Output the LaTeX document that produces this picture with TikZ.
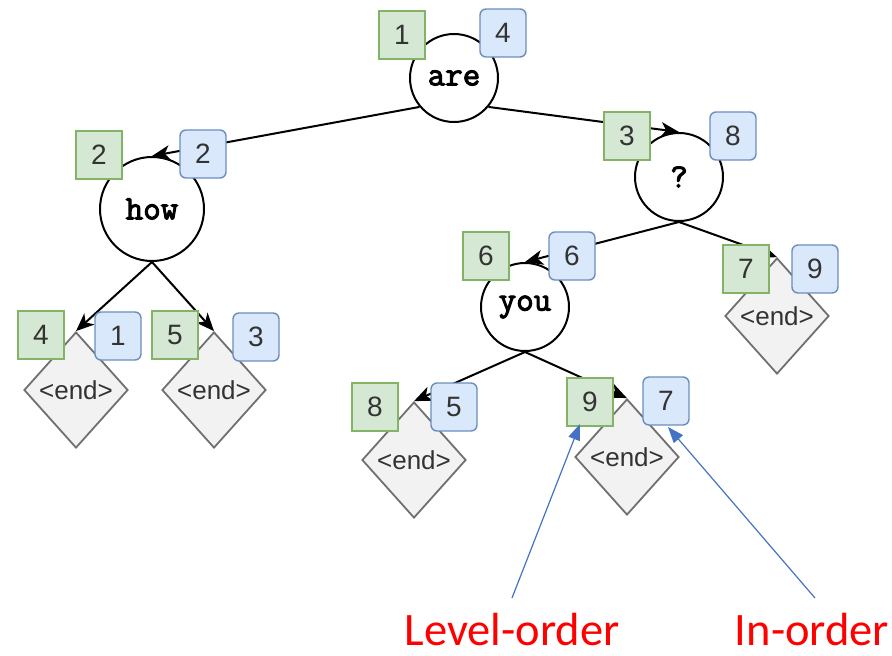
\documentclass[tikz,border=0pt]{standalone}
\usepackage{fontspec}
\setmainfont{Liberation Sans}
\newfontfamily\labelfont{Carlito}
\newfontfamily\codefont{Latin Modern Mono}[FakeBold=3]
\usetikzlibrary{shapes.geometric,arrows.meta}

\definecolor{lvlfill}{HTML}{D5E8D4}
\definecolor{lvldraw}{HTML}{82B366}
\definecolor{inofill}{HTML}{DAE8FC}
\definecolor{inodraw}{HTML}{6C8EBF}
\definecolor{endfill}{HTML}{F2F2F2}
\definecolor{enddraw}{HTML}{707070}
\definecolor{numtext}{HTML}{333333}
\definecolor{pointer}{HTML}{4472C4}

\tikzset{
  word/.style={circle, draw=black, line width=2pt, fill=white,
    minimum size=#1, inner sep=0pt,
    font=\codefont\fontsize{34}{34}\selectfont},
  endbox/.style={diamond, draw=enddraw, line width=1.8pt, fill=endfill,
    minimum width=104pt, minimum height=116pt, inner sep=0pt,
    text=numtext, font=\fontsize{26}{26}\selectfont},
  lvlbox/.style={rectangle, draw=lvldraw, line width=1.4pt, fill=lvlfill,
    minimum width=46pt, minimum height=48pt, inner sep=0pt,
    text=numtext, font=\fontsize{28}{28}\selectfont},
  inobox/.style={rectangle, rounded corners=6pt, draw=inodraw, line width=1.4pt,
    fill=inofill, minimum width=46pt, minimum height=48pt, inner sep=0pt,
    text=numtext, font=\fontsize{28}{28}\selectfont},
  edge/.style={line width=2pt, draw=black,
    -{Stealth[length=18pt,width=15pt,inset=5pt]}},
  pointer/.style={line width=1.2pt, draw=pointer,
    -{Triangle[length=16pt,width=12pt]}},
  caption/.style={text=red, font=\labelfont\fontsize{46.5}{46.5}\selectfont,
    inner sep=0pt}
}

\begin{document}
\begin{tikzpicture}[x=1pt,y=-1pt]
\useasboundingbox (0,0) rectangle (892,656);

% word nodes of the tree
\node[word=88pt] (are) at (454,78) {are};
\node[word=104pt] (how) at (152,209) {how};
\node[word=88pt] (q) at (679,177) {?};
\node[word=88pt] (you) at (525,307) {you};

% end markers
\node[endbox] (e1) at (76,390) {<end>};
\node[endbox] (e2) at (214,390) {<end>};
\node[endbox] (e3) at (414,460) {<end>};
\node[endbox] (e4) at (627,457) {<end>};
\node[endbox] (e5) at (777,316) {<end>};

% tree edges
\draw[edge] (are.220) -- (how.north);
\draw[edge] (are.320) -- (q.north);
\draw[edge] (how.south) -- (e1.north);
\draw[edge] (how.south) -- (e2.north);
\draw[edge] (q.south) -- (you.north);
\draw[edge] (q.south) -- (e5.north);
\draw[edge] (you.south) -- (e3.north);
\draw[edge] (you.south) -- (e4.north);

% level-order numbers (green) and in-order numbers (blue)
\node[lvlbox] (l1) at (402,35) {1};
\node[inobox] (i4) at (503,33) {4};
\node[lvlbox] (l2) at (99,155) {2};
\node[inobox] (i2) at (203,154) {2};
\node[lvlbox] (l3) at (627,136) {3};
\node[inobox] (i8) at (733,136) {8};
\node[lvlbox] (l6) at (486,256) {6};
\node[inobox] (i6) at (572,256) {6};
\node[lvlbox] (l4) at (41,335) {4};
\node[inobox] (i1) at (118,336) {1};
\node[lvlbox] (l5) at (175,335) {5};
\node[inobox] (i3) at (256,337) {3};
\node[lvlbox] (l8) at (375,407) {8};
\node[inobox] (i5) at (454,407) {5};
\node[lvlbox] (l9) at (590,402) {9};
\node[inobox] (i7) at (666,401) {7};
\node[lvlbox] (l7) at (746,269) {7};
\node[inobox] (i9) at (815,269) {9};

% captions with pointers
\node[caption, anchor=base] (lvl) at (512,645) {Level-order};
\node[caption, anchor=base] (ino) at (812,645) {In-order};
\coordinate (lvltip) at (580,424);
\coordinate (inotip) at (668,427);
\draw[pointer] (512,598) -- (lvltip);
\draw[pointer] (815,598) -- (inotip);
\end{tikzpicture}
\end{document}
